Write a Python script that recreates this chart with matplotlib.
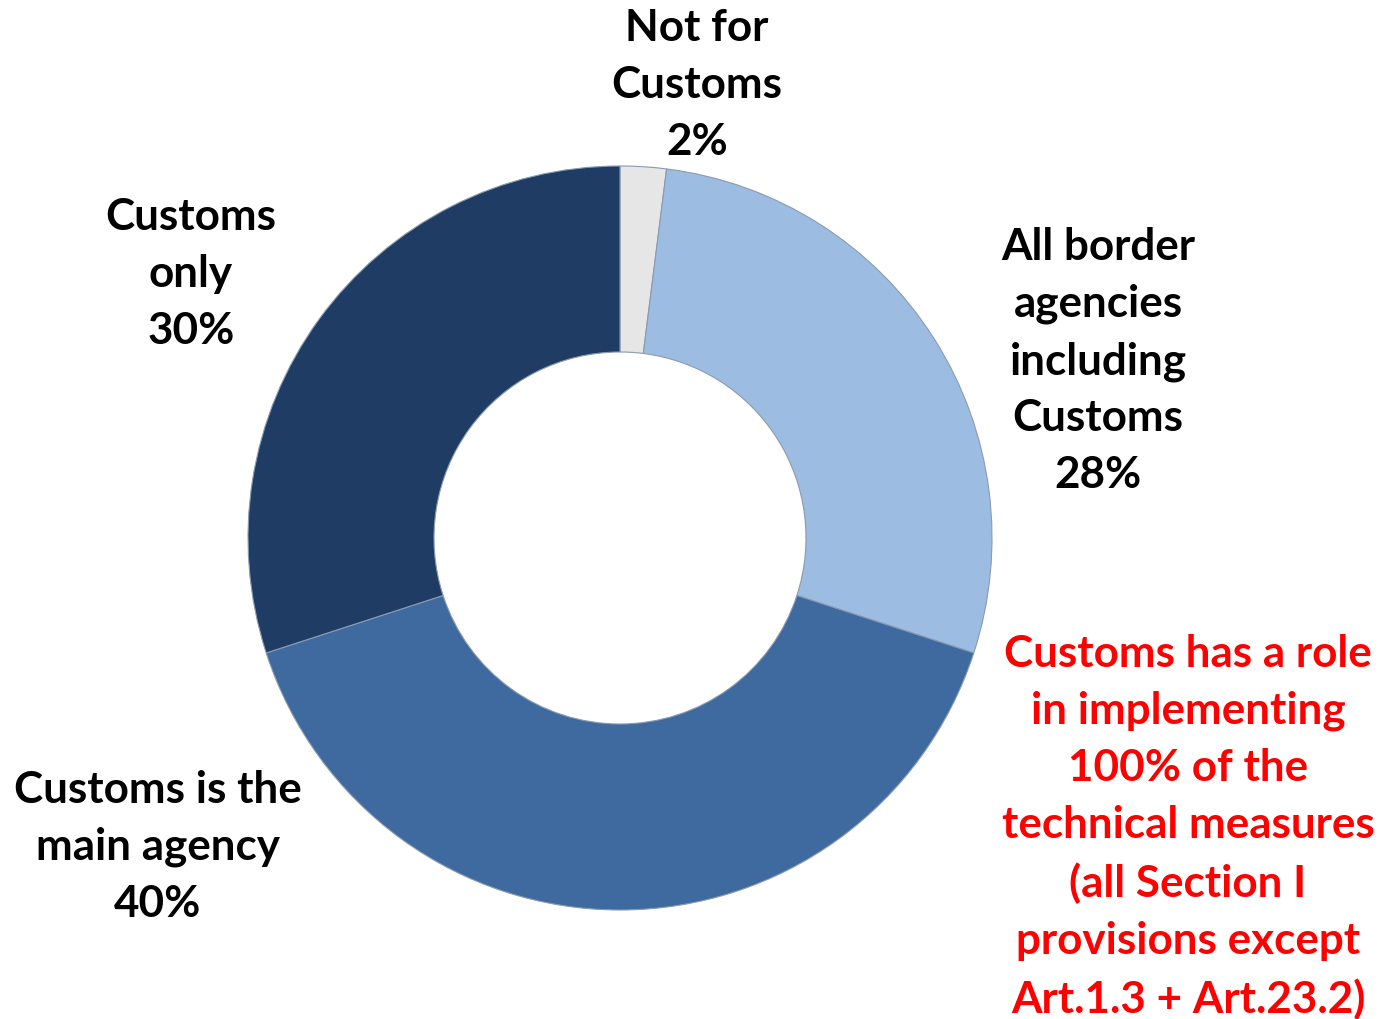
import matplotlib
matplotlib.use("Agg")
import matplotlib.pyplot as plt

categories = ["Not for\nCustoms", "All border\nagencies\nincluding\nCustoms",
              "Customs is the\nmain agency", "Customs\nonly"]
values = [2, 28, 40, 30]
colors = ["#E6E6E6", "#9DBCE2", "#3E6A9F", "#1F3C65"]
note = ("Customs has a role\nin implementing\n100% of the\ntechnical measures\n"
        "(all Section I\nprovisions except\nArt.1.3 + Art.23.2)")

W, H = 1391, 1020
fig = plt.figure(figsize=(W / 100, H / 100), dpi=100)
ax = fig.add_axes([0, 0, 1, 1])
ax.set_xlim(0, W)
ax.set_ylim(0, H)
ax.set_aspect("equal")
ax.axis("off")

cx, cy, R = 620, H - 539, 372
wedges, _ = ax.pie(values, colors=colors, startangle=90, counterclock=False,
                   center=(cx, cy), radius=R,
                   wedgeprops=dict(width=R * 0.5, edgecolor="#8a9bb0", linewidth=0.8))
ax.set_xlim(0, W)
ax.set_ylim(0, H)

font = ["Lato", "DejaVu Sans"]
fs = 31.7
ls = 1.51

label_pos = [(697, 85), (1098, 361), (158, 847), (191, 274)]
for cat, v, (x, y) in zip(categories, values, label_pos):
    ax.text(x, H - y, f"{cat}\n{v}%", ha="center", va="center", fontsize=fs,
            fontweight="bold", family=font, color="black", linespacing=ls)

ax.text(1188, H - 827, note, ha="center", va="center", fontsize=fs,
        fontweight="bold", family=font, color="#FF0000", linespacing=ls)

fig.savefig("out.png", dpi=100)
